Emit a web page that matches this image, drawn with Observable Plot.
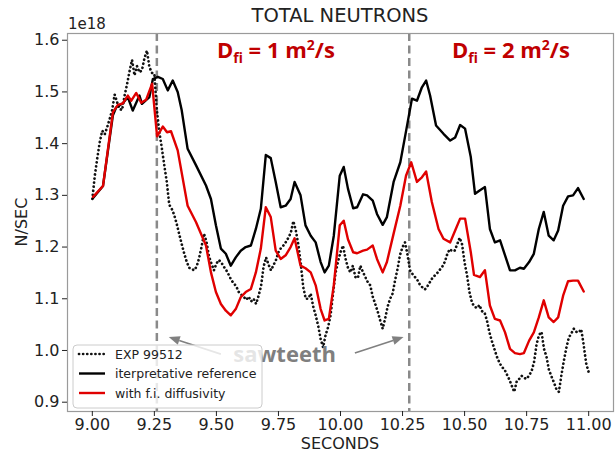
<!DOCTYPE html>
<html>
<head>
<meta charset="utf-8">
<script src="https://cdn.jsdelivr.net/npm/d3@7"></script>
<script src="https://cdn.jsdelivr.net/npm/@observablehq/plot@0.6"></script>
<style>
  html, body { margin: 0; padding: 0; background: #fff; }
  #chart { width: 616px; height: 453px; }
</style>
</head>
<body>
<div id="chart"></div>
<script>
// ---------- data ----------
const xTicks = [9.0, 9.25, 9.5, 9.75, 10.0, 10.25, 10.5, 10.75, 11.0];
const yTicks = [0.9, 1.0, 1.1, 1.2, 1.3, 1.4, 1.5, 1.6];
const sawtoothTimes = [9.26, 10.277];

const seriesNames = ["EXP 99512", "iterpretative reference", "with f.i. diffusivity"];

// experimental (dotted), sampled every 0.01 s from 9.00 to 11.00
const expStart = 9.0, expStep = 0.01;
const expValues = [
  1.293,1.338,1.372,1.403,1.425,1.418,1.432,1.448,1.465,1.495,
  1.480,1.467,1.465,1.493,1.515,1.540,1.562,1.532,1.550,1.538,
  1.542,1.565,1.580,1.548,1.537,1.535,1.465,1.422,1.392,1.358,
  1.326,1.282,1.274,1.262,1.245,1.225,1.206,1.188,1.172,1.160,
  1.158,1.155,1.162,1.178,1.200,1.226,1.210,1.182,1.168,1.155,
  1.168,1.175,1.170,1.162,1.155,1.146,1.136,1.130,1.124,1.113,
  1.108,1.104,1.098,1.104,1.095,1.100,1.090,1.106,1.125,1.162,
  1.180,1.166,1.155,1.165,1.175,1.190,1.198,1.203,1.210,1.218,
  1.228,1.250,1.232,1.205,1.168,1.122,1.100,1.100,1.110,1.085,
  1.068,1.048,1.022,1.006,1.030,1.045,1.068,1.110,1.150,1.172,
  1.190,1.203,1.178,1.160,1.151,1.164,1.142,1.140,1.164,1.152,
  1.142,1.132,1.126,1.104,1.090,1.075,1.058,1.042,1.062,1.085,
  1.100,1.110,1.136,1.158,1.185,1.200,1.209,1.185,1.155,1.148,
  1.142,1.136,1.127,1.122,1.118,1.124,1.132,1.140,1.145,1.150,
  1.156,1.162,1.171,1.186,1.196,1.192,1.193,1.205,1.218,1.205,
  1.170,1.145,1.112,1.092,1.085,1.082,1.088,1.076,1.074,1.058,
  1.035,1.018,1.003,0.988,0.977,0.968,0.964,0.954,0.944,0.932,
  0.920,0.940,0.945,0.951,0.947,0.945,0.952,0.960,0.978,1.012,
  1.030,1.036,1.003,0.988,0.962,0.950,0.938,0.925,0.920,0.952,
  0.980,1.005,1.025,1.033,1.042,1.036,1.035,1.041,1.010,0.975,
  0.958
];

// interpretative reference (black)
const refTimes = [9.003,9.043,9.083,9.096,9.123,9.143,9.163,9.19,9.2,9.23,
  9.244,9.264,9.284,9.304,9.324,9.344,9.36,9.384,9.418,9.458,
  9.478,9.498,9.518,9.538,9.558,9.578,9.598,9.618,9.639,9.659,
  9.679,9.699,9.719,9.739,9.759,9.779,9.799,9.815,9.839,9.859,
  9.88,9.9,9.92,9.936,9.953,9.973,9.997,10.013,10.03,10.051,
  10.067,10.091,10.107,10.13,10.147,10.17,10.187,10.214,10.241,10.261,
  10.288,10.308,10.328,10.345,10.361,10.385,10.415,10.442,10.462,10.482,
  10.502,10.525,10.542,10.562,10.582,10.602,10.622,10.643,10.663,10.683,
  10.703,10.723,10.739,10.76,10.779,10.799,10.819,10.839,10.859,10.877,
  10.897,10.917,10.937,10.957,10.98];
const refValues = [1.295,1.318,1.455,1.47,1.478,1.49,1.464,1.493,1.477,1.49,
  1.525,1.529,1.525,1.503,1.522,1.5,1.465,1.39,1.358,1.319,
  1.293,1.242,1.197,1.187,1.164,1.18,1.193,1.2,1.203,1.235,
  1.274,1.378,1.372,1.326,1.277,1.28,1.293,1.326,1.3,1.242,
  1.222,1.209,1.171,1.151,1.164,1.222,1.338,1.355,1.313,1.275,
  1.277,1.302,1.3,1.29,1.264,1.243,1.258,1.326,1.364,1.416,
  1.487,1.483,1.509,1.522,1.493,1.435,1.419,1.406,1.412,1.436,
  1.429,1.374,1.303,1.31,1.316,1.235,1.209,1.213,1.184,1.155,
  1.155,1.16,1.158,1.171,1.187,1.235,1.268,1.222,1.213,1.232,
  1.28,1.298,1.3,1.314,1.293];

// with fast-ion diffusivity (red)
const fiTimes = [9.003,9.043,9.083,9.103,9.123,9.143,9.157,9.177,9.197,9.217,
  9.241,9.261,9.284,9.301,9.317,9.344,9.384,9.418,9.458,9.478,
  9.498,9.518,9.538,9.558,9.578,9.598,9.618,9.639,9.659,9.679,
  9.699,9.719,9.739,9.759,9.779,9.799,9.815,9.839,9.859,9.88,
  9.9,9.92,9.936,9.953,9.973,9.997,10.013,10.03,10.051,10.067,
  10.091,10.107,10.13,10.147,10.17,10.187,10.214,10.241,10.264,10.285,
  10.308,10.328,10.345,10.368,10.395,10.415,10.442,10.462,10.482,10.502,
  10.525,10.538,10.562,10.582,10.602,10.622,10.643,10.663,10.683,10.703,
  10.723,10.739,10.76,10.779,10.799,10.819,10.839,10.859,10.877,10.897,
  10.917,10.937,10.957,10.98];
const fiValues = [1.297,1.318,1.461,1.475,1.478,1.493,1.483,1.498,1.479,1.485,
  1.516,1.414,1.433,1.422,1.424,1.387,1.28,1.248,1.203,1.151,
  1.113,1.09,1.077,1.068,1.08,1.103,1.113,1.119,1.151,1.197,
  1.277,1.258,1.193,1.177,1.184,1.2,1.217,1.164,1.159,1.151,
  1.126,1.08,1.058,1.061,1.126,1.242,1.251,1.215,1.19,1.188,
  1.193,1.195,1.203,1.177,1.151,1.171,1.226,1.28,1.338,1.364,
  1.326,1.335,1.346,1.287,1.235,1.216,1.209,1.232,1.255,1.255,
  1.19,1.146,1.142,1.155,1.087,1.061,1.058,1.035,1.003,0.995,
  0.993,0.995,1.019,1.035,1.064,1.097,1.064,1.055,1.064,1.106,
  1.134,1.135,1.135,1.114];

// ---------- tables ----------
const expRows = expValues.map((v, i) => ({t: +(expStart + i * expStep).toFixed(3), v}));
const refRows = refTimes.map((t, i) => ({t, v: refValues[i]}));
const fiRows = fiTimes.map((t, i) => ({t, v: fiValues[i]}));

const RED = "#e00000";
const DARKRED = "#c00000";
const GRAY = "#808080";

const chart = Plot.plot({
  width: 616,
  height: 453,
  marginTop: 33,
  marginRight: 3,
  marginBottom: 42,
  marginLeft: 67,
  style: {fontFamily: "'DejaVu Sans', sans-serif", fontSize: "16px", background: "#fff", color: "#222", overflow: "visible"},
  x: {domain: [8.9, 11.1]},
  y: {domain: [0.882, 1.613]},
  marks: [
    Plot.ruleX(sawtoothTimes, {stroke: "#8a8a8a", strokeWidth: 2.5, strokeDasharray: "8,4.5"}),
    Plot.line(expRows, {x: "t", y: "v", stroke: "#111", strokeWidth: 2.7, strokeDasharray: "0.1,4", strokeLinecap: "round"}),
    Plot.line(refRows, {x: "t", y: "v", stroke: "#000", strokeWidth: 2.4}),
    Plot.line(fiRows, {x: "t", y: "v", stroke: RED, strokeWidth: 2.4}),
    Plot.frame({stroke: "#9a9a9a", strokeWidth: 1.2}),
    Plot.axisX({ticks: xTicks, tickFormat: d => d.toFixed(2), tickSize: 5, tickPadding: 2, label: null, fontSize: 16}),
    Plot.axisY({ticks: yTicks, tickFormat: d => d.toFixed(1), tickSize: 5, tickPadding: 3, label: null, fontSize: 16})
  ]
});

document.getElementById("chart").appendChild(chart);

const svg = d3.select(chart);
const sx = chart.scale("x"), sy = chart.scale("y");
const X = t => sx.apply(t), Y = v => sy.apply(v);

// titles and labels
svg.append("text").attr("x", 340).attr("y", 22).attr("text-anchor", "middle")
  .attr("font-size", 19.5).attr("fill", "#222").text("TOTAL NEUTRONS");
svg.append("text").attr("x", 68).attr("y", 29).attr("text-anchor", "start")
  .attr("font-size", 15).attr("fill", "#222").text("1e18");
svg.append("text").attr("transform", "translate(27,222) rotate(-90)").attr("text-anchor", "middle")
  .attr("font-size", 16).attr("fill", "#222").text("N/SEC");
svg.append("text").attr("x", 340).attr("y", 449).attr("text-anchor", "middle")
  .attr("font-size", 16).attr("fill", "#222").text("SECONDS");

// annotations D_fi
function dfi(t, v, num) {
  const tx = svg.append("text").attr("x", X(t)).attr("y", Y(v)).attr("text-anchor", "start")
    .attr("font-family", "'Open Sans', sans-serif").attr("font-weight", "bold")
    .attr("font-size", 22).attr("fill", DARKRED);
  tx.append("tspan").text("D");
  tx.append("tspan").attr("font-size", 14).attr("dy", 5).text("fi");
  tx.append("tspan").attr("dy", -5).text(" = " + num + " m");
  tx.append("tspan").attr("font-size", 14).attr("dy", -8).text("2");
  tx.append("tspan").attr("dy", 8).text("/s");
}
dfi(9.504, 1.565, 1);
dfi(10.451, 1.565, 2);

// sawteeth label and arrows
svg.append("text").attr("x", X(9.57)).attr("y", Y(0.977)).attr("text-anchor", "start")
  .attr("font-family", "'Open Sans', sans-serif").attr("font-weight", "bold")
  .attr("font-size", 22).attr("fill", "#7f7f7f").text("sawteeth");

function arrow(t0, v0, t1, v1) {
  const x0 = X(t0), y0 = Y(v0), x1 = X(t1), y1 = Y(v1);
  const a = Math.atan2(y1 - y0, x1 - x0), L = 11, W = 4.5;
  const bx = x1 - L * Math.cos(a), by = y1 - L * Math.sin(a);
  svg.append("line").attr("x1", x0).attr("y1", y0).attr("x2", bx).attr("y2", by)
    .attr("stroke", GRAY).attr("stroke-width", 1.6);
  const px = -Math.sin(a) * W, py = Math.cos(a) * W;
  svg.append("path").attr("d", `M${x1},${y1}L${bx + px},${by + py}L${bx - px},${by - py}Z`).attr("fill", GRAY);
}
arrow(9.52, 0.992, 9.31, 1.025);
arrow(10.06, 0.994, 10.256, 1.025);

// legend
const lg = svg.append("g").attr("font-size", 12.5).attr("fill", "#222").attr("text-anchor", "start");
lg.append("rect").attr("x", 73).attr("y", 345).attr("width", 189).attr("height", 63).attr("rx", 4)
  .attr("fill", "#fff").attr("fill-opacity", 0.8).attr("stroke", "#cccccc");
const styles = [
  {stroke: "#111", dash: "0.1,4", w: 2.7},
  {stroke: "#000", dash: null, w: 2.4},
  {stroke: RED, dash: null, w: 2.4}
];
seriesNames.forEach((name, i) => {
  const yy = 354 + i * 19.5;
  const ln = lg.append("line").attr("x1", 79).attr("x2", 105).attr("y1", yy).attr("y2", yy)
    .attr("stroke", styles[i].stroke).attr("stroke-width", styles[i].w).attr("stroke-linecap", i === 0 ? "round" : "butt");
  if (styles[i].dash) ln.attr("stroke-dasharray", styles[i].dash);
  lg.append("text").attr("x", 115).attr("y", yy + 4.5).attr("text-anchor", "start").text(name);
});
</script>
</body>
</html>
